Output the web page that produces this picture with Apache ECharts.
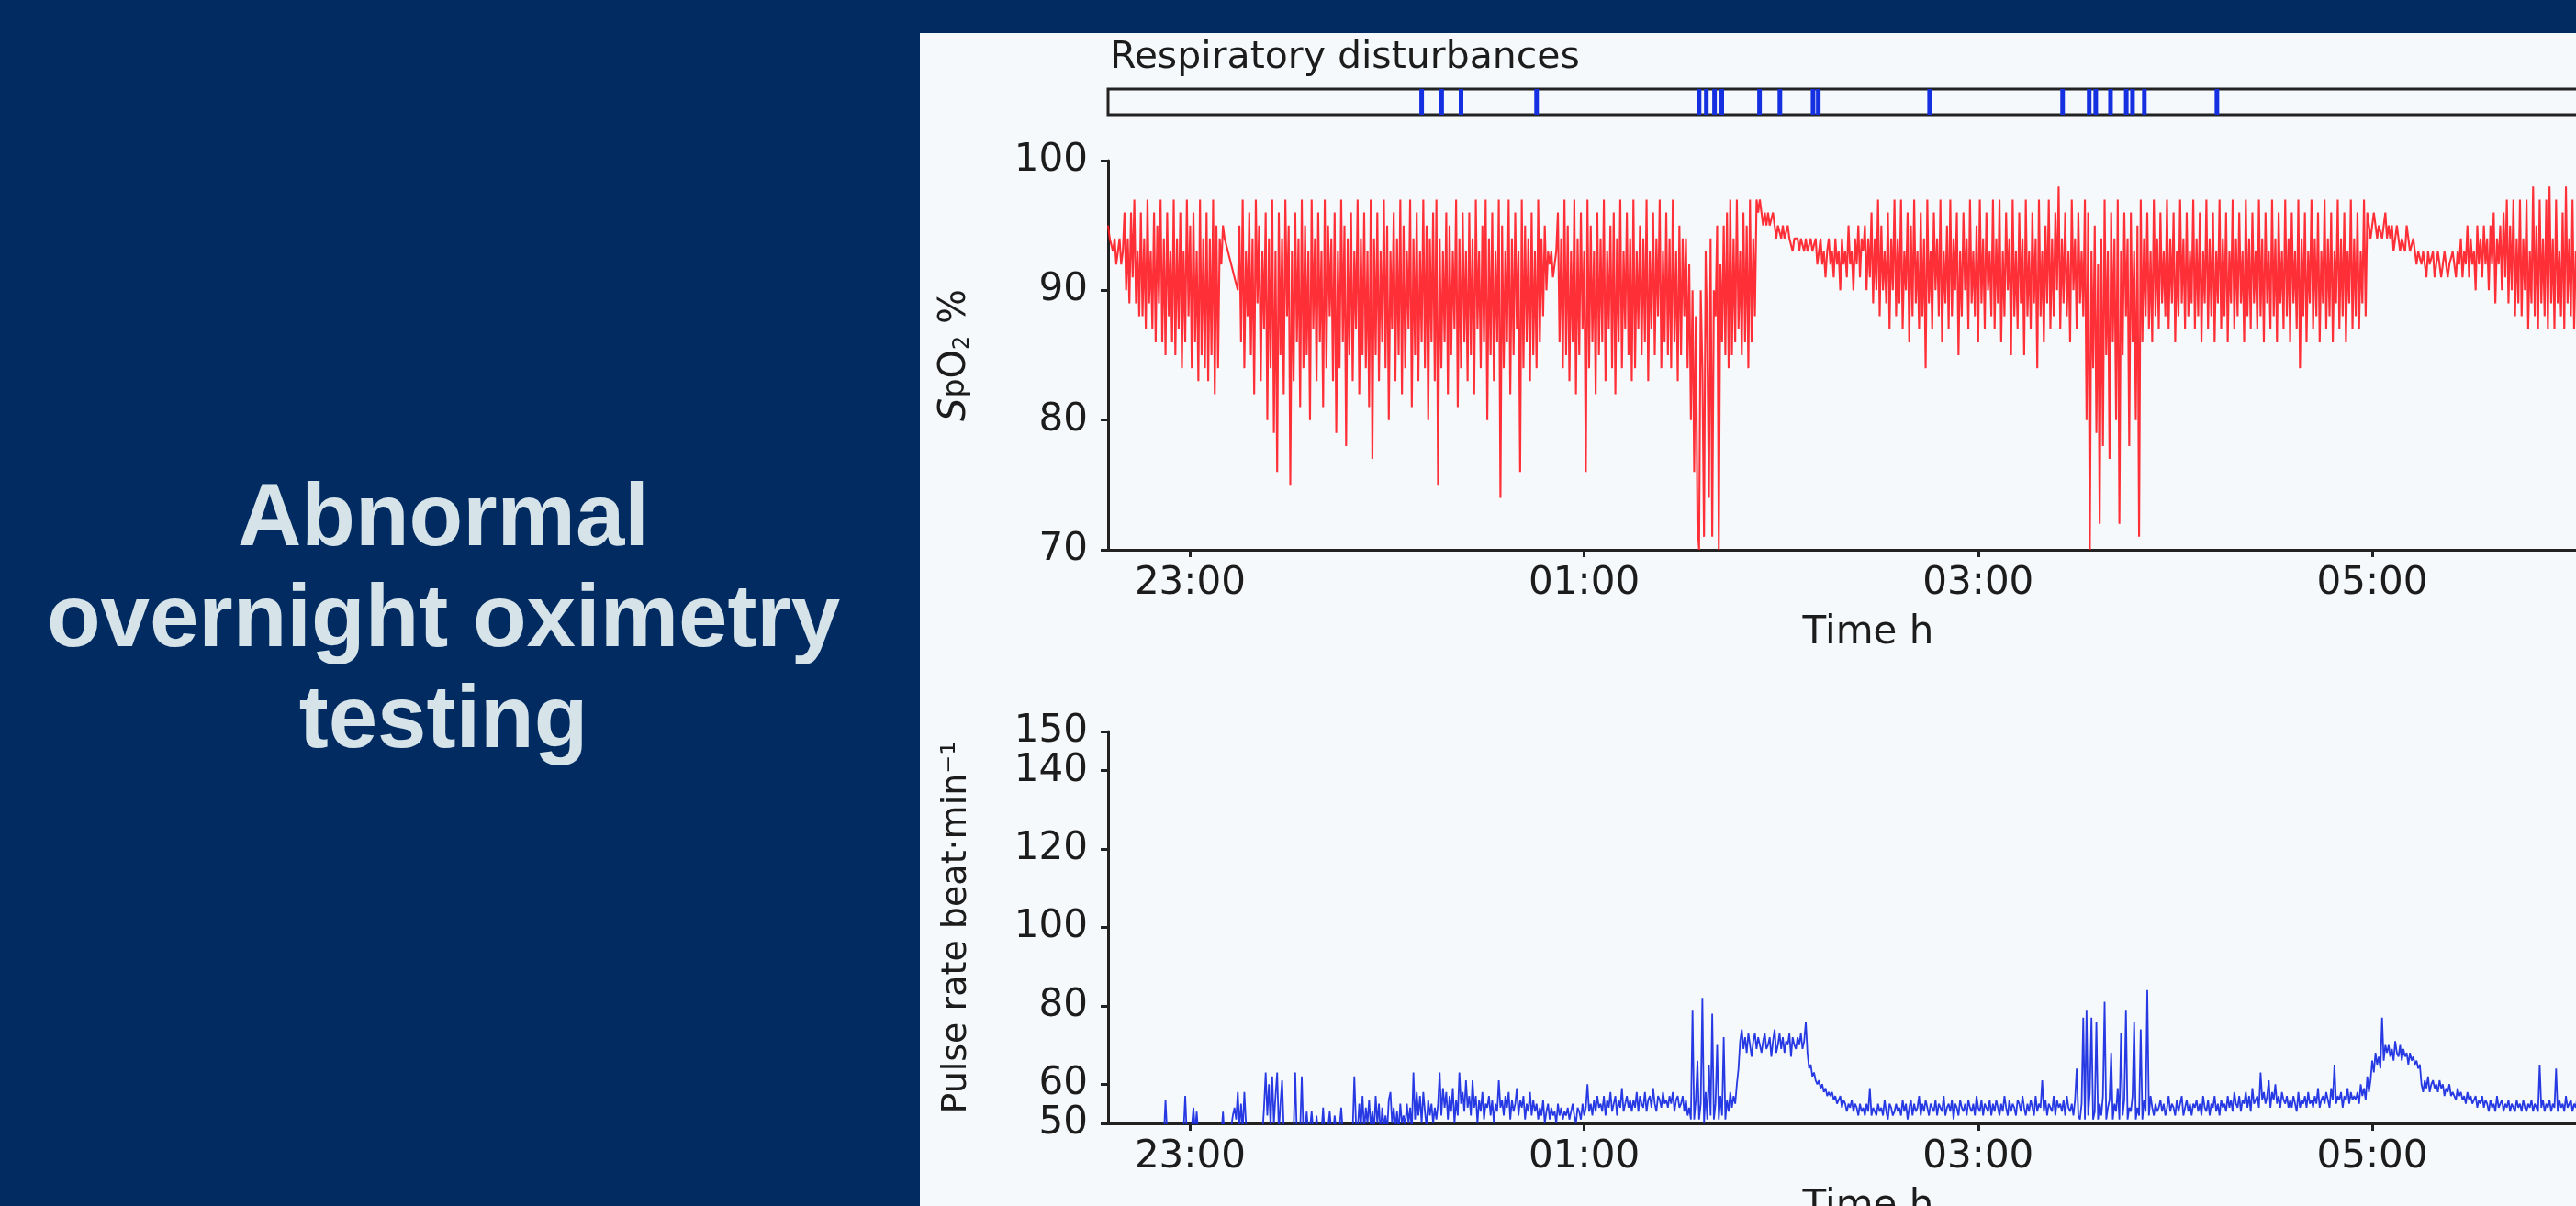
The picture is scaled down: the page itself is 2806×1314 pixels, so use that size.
<!DOCTYPE html>
<html lang="en">
<head>
<meta charset="UTF-8">
<title>Abnormal overnight oximetry testing</title>
<script src="https://cdn.jsdelivr.net/npm/echarts@6.0.0/dist/echarts.min.js"></script>
<style>
  html, body { margin: 0; padding: 0; width: 2806px; height: 1314px; overflow: hidden; background: #022c61; }
  .headline {
    position: absolute; left: 0; top: 506px; width: 966px; text-align: center;
    font-family: "Liberation Sans", Arial, sans-serif; font-weight: bold;
    font-size: 96px; line-height: 110px; color: #d6e4ea;
  }
  #panel { position: absolute; left: 1002px; top: 36px; width: 1900px; height: 1278px; background: #f6f9fb; }
</style>
</head>
<body>
<div class="headline">Abnormal<br>overnight oximetry<br>testing</div>
<div id="panel"></div>
<script>
// time in minutes after 22:00, one sample every 30 s from 22:35
var startMin = 35;
var stepMin = 0.5;
var endMin = 498;
var timeTicks = [60, 180, 300, 420];
var timeLabels = ['23:00', '01:00', '03:00', '05:00'];
var pulseTicks = [50, 60, 80, 100, 120, 140, 150];

// respiratory disturbance marks (minutes after 22:00)
var eventMin = [130.5, 136.6, 142.5, 165.5, 215.0, 217.2, 219.7, 221.9, 233.4, 239.6,
  249.7, 251.3, 285.2, 325.7, 333.8, 335.8, 340.3, 345.1, 347.0, 350.6, 372.7];

// SpO2 %, one array per hour
var spo2_2235 = [
  95,94,94,93,94,92,93,94,92,93,96,90,94,89,96,91,97,89,93,88,
  96,88,94,87,97,89,93,87,96,86,95,89,97,86,94,85,96,88,93,86,
  97,85,94,87,96,84,93,86,97,88,95,84,96,86,93,83,97,85,94,84,
  96,83,94,85,97,82,95,84,94,92,95,94,94,93,93,92,92,91,91,90,
  95,86,97,84,93,88,96,85,94,82,97,89,95,83,93,87,96,80,94,84,
  97,79,93,76,96,85,94,82,97,88,95,75,93,83,96,86,94,81,97,84];
var spo2_2335 = [
  95,85,93,80,97,87,94,83,96,86,93,81,97,84,95,88,94,83,96,79,
  93,84,97,86,95,78,94,85,96,83,93,87,97,82,94,85,96,84,93,81,
  97,77,94,85,96,83,93,86,97,84,95,80,93,87,96,83,94,85,97,82,
  95,84,93,87,97,81,94,85,96,83,93,86,97,84,95,80,94,86,96,83,
  97,75,94,84,93,86,96,82,95,85,93,87,97,81,94,84,96,86,93,83,
  96,85,94,82,97,87,93,84,95,86,97,80,94,85,96,83,93,86,97,74];
var spo2_0035 = [
  95,84,93,86,97,82,94,85,96,87,93,76,97,84,95,86,94,83,96,85,
  93,84,97,86,94,88,95,90,93,92,93,91,92,93,96,86,94,84,97,85,
  95,83,93,86,97,82,94,85,96,87,93,76,97,84,95,86,93,82,96,85,
  94,86,97,83,93,87,95,84,96,82,94,86,97,84,93,87,96,85,94,83,
  97,84,93,87,95,85,94,86,97,83,93,87,96,85,94,88,97,84,93,86,
  96,85,94,84,97,86,93,83,95,85,94,88,94,84,92,80,90,76,88,72];
var spo2_0135 = [
  70,90,84,71,93,86,74,94,71,90,88,95,70,92,86,95,85,96,84,97,
  85,94,86,97,87,93,85,96,86,95,84,97,86,94,88,97,96,97,96,95,
  96,95,96,95,95,96,95,94,95,95,94,95,94,94,95,94,94,93,94,94,
  94,93,94,94,93,94,93,93,94,93,93,94,92,93,94,92,93,91,93,94,
  92,93,91,94,92,93,90,94,92,93,91,95,92,93,90,94,92,95,91,94,
  93,95,90,94,91,96,89,94,90,97,88,95,90,93,89,96,87,94,90,97];
var spo2_0235 = [
  88,94,89,97,87,93,90,96,86,95,88,97,89,93,87,96,88,94,84,97,
  89,93,87,96,90,94,88,97,86,93,89,95,87,97,88,94,90,96,85,93,
  88,96,90,94,87,97,89,93,88,95,86,97,89,94,87,96,90,93,88,97,
  87,94,89,97,86,93,88,96,90,94,85,97,88,93,87,96,89,94,85,97,
  88,93,87,96,89,94,84,97,88,93,86,95,89,97,87,94,88,96,90,98,
  87,94,89,96,88,93,86,97,90,94,87,96,89,93,88,97,80,96,70,93];
var spo2_0335 = [
  84,95,79,92,72,94,78,97,85,93,77,96,86,94,80,97,72,93,85,96,
  88,94,78,96,86,93,80,95,71,97,86,94,88,96,87,93,86,97,88,94,
  87,96,89,93,88,97,87,94,89,96,86,93,88,97,89,94,87,96,88,93,
  89,97,87,94,88,96,86,93,89,97,87,94,88,96,86,93,89,97,87,94,
  88,96,86,93,89,97,87,94,88,96,89,93,86,97,88,94,87,96,89,93,
  87,97,88,94,86,96,89,93,87,97,88,94,86,96,89,93,87,97,88,94];
var spo2_0435 = [
  86,96,89,93,87,97,84,94,88,96,86,93,89,97,87,94,88,96,86,93,
  89,97,87,94,88,96,86,93,89,97,87,94,88,96,86,93,89,97,87,94,
  88,96,87,93,89,97,88,96,95,94,95,96,95,94,95,95,94,95,96,94,
  95,94,95,93,94,95,94,93,94,94,93,95,94,93,93,94,93,92,93,93,
  92,93,92,91,93,92,92,93,91,92,93,92,91,92,93,92,91,92,92,93,
  92,91,93,92,94,91,93,92,95,91,94,92,93,90,95,92,94,91,95,92];
var spo2_0535 = [
  94,90,95,92,96,89,94,92,95,90,96,91,97,89,95,90,97,88,94,89,
  97,88,94,90,97,87,93,89,98,88,95,87,97,89,94,88,97,87,98,89,
  94,87,97,89,93,88,96,87,98,89,94,88,97,87,93,89,96,88,97,87,
  95,89,97,88,93,87,96,89,94,88,97,87,95,89,93,88,96,87,97,89,
  94,88,97,87,95,89];

// pulse rate beat/min, one array per hour (values under 50 fall below the axis)
var pulse_2235 = [
  47,46,48,47,46,47,48,46,47,46,47,48,47,46,47,48,47,46,47,48,
  47,46,48,47,46,47,48,46,47,46,47,48,47,46,47,56,47,46,48,47,
  46,47,48,47,46,47,48,57,47,48,46,49,54,48,53,47,46,48,47,46,
  47,48,46,47,49,48,46,47,48,47,53,46,48,47,46,49,52,54,51,58,
  49,55,48,58,50,47,48,49,47,46,48,47,49,46,47,54,63,52,60,49,
  62,50,57,63,48,55,61,49,47,48,47,49,46,48,63,47,49,48,62,47];
var pulse_2335 = [
  48,53,47,49,53,48,46,52,47,49,48,54,47,46,49,53,48,47,52,48,
  47,49,54,48,47,46,48,49,47,48,62,50,48,55,49,57,48,54,50,56,
  49,53,48,57,50,55,47,54,49,52,48,56,58,50,54,49,53,48,55,50,
  52,49,55,50,54,48,63,51,58,52,57,50,58,53,49,56,52,55,50,54,
  51,55,63,52,59,54,58,51,57,53,59,50,56,52,63,55,58,53,61,54,
  57,52,61,54,57,50,56,53,58,51,55,54,57,52,56,50,55,53,61,54];
var pulse_0035 = [
  56,52,57,54,58,51,56,53,55,59,52,56,54,57,51,55,53,58,52,56,
  53,55,51,54,52,56,50,53,55,51,54,52,53,50,55,52,54,51,53,52,
  54,51,53,55,52,50,54,53,51,55,52,54,60,53,55,52,56,53,57,54,
  55,53,57,52,56,54,58,53,55,57,52,56,54,59,53,55,57,54,56,53,
  56,54,58,53,57,55,54,58,53,56,57,54,59,55,53,57,56,54,58,55,
  56,54,57,55,58,53,56,57,54,55,57,53,56,52,54,51,79,51,56,66];
var pulse_0135 = [
  51,55,82,50,58,51,65,52,78,51,55,70,51,57,52,72,51,56,53,58,
  54,57,55,60,64,71,74,69,72,68,73,70,67,71,73,69,72,70,68,71,
  73,69,70,72,67,71,74,68,70,73,69,72,68,71,70,73,67,72,70,69,
  72,70,73,69,71,76,68,64,65,62,63,61,60,61,59,60,58,59,57,58,
  57,58,56,57,55,56,57,54,56,55,53,55,54,56,53,55,54,52,55,53,
  54,52,55,53,59,52,54,53,52,55,53,54,52,56,53,51,55,54,52,53];
var pulse_0235 = [
  55,53,54,52,56,53,55,51,54,56,52,55,53,54,57,52,55,53,56,54,
  52,55,54,53,56,52,55,54,53,57,52,54,55,53,56,51,55,54,52,56,
  54,53,55,52,56,54,53,55,52,57,54,53,56,52,55,54,53,56,52,55,
  53,56,54,52,55,53,57,54,52,56,53,55,54,52,56,55,53,57,54,52,
  55,53,56,54,52,57,53,55,54,61,53,56,52,55,54,53,57,52,56,54,
  55,53,56,52,57,54,53,55,52,56,64,52,51,55,77,51,79,52,58,77];
var pulse_0335 = [
  51,53,76,51,55,52,57,81,51,54,56,68,51,55,53,59,51,73,52,56,
  79,51,54,53,57,76,51,54,52,74,51,56,53,84,52,57,54,52,55,53,
  54,56,53,55,52,54,57,53,55,54,52,56,53,55,57,52,54,56,53,55,
  52,55,54,56,53,55,52,57,54,53,56,52,55,54,57,53,55,52,56,54,
  55,53,57,54,56,53,58,55,54,57,53,56,55,58,54,57,53,59,55,56,
  57,54,63,56,58,55,57,61,54,58,56,60,55,57,54,58,56,55,57,54];
var pulse_0435 = [
  56,54,57,55,53,58,54,56,55,57,54,58,55,56,54,57,55,59,54,56,
  57,55,58,56,54,59,56,65,55,57,56,58,54,57,56,59,55,58,56,57,
  56,58,55,60,57,59,56,62,58,61,66,63,68,65,67,64,77,66,70,68,
  70,67,69,66,71,68,67,70,66,69,67,68,65,68,66,67,65,66,64,65,
  60,58,61,59,62,58,60,61,59,60,58,61,59,60,57,59,58,60,57,58,
  58,56,59,57,58,56,57,55,58,56,57,55,56,57,54,56,55,57,54,56];
var pulse_0535 = [
  55,53,56,54,55,53,57,54,55,56,53,55,54,56,53,55,54,53,56,54,
  55,53,56,54,53,55,54,56,53,55,54,53,65,54,56,53,55,54,56,53,
  55,54,64,53,56,54,55,53,57,54,55,56,53,55,54,57,53,56,54,55,
  53,56,54,55,57,53,55,54,56,53,55,57,54,56,53,55,54,56,53,55,
  54,56,53,55,54,56];

var spo2 = [].concat(spo2_2235, spo2_2335, spo2_0035, spo2_0135, spo2_0235, spo2_0335, spo2_0435, spo2_0535);
var pulse = [].concat(pulse_2235, pulse_2335, pulse_0035, pulse_0135, pulse_0235, pulse_0335, pulse_0435, pulse_0535);

function withTime(values) {
    return values.map(function (v, i) { return [startMin + i * stepMin, v]; });
}

var font = '"DejaVu Sans", sans-serif';
var ink = '#1c1c1c';

function timeAxis(gridIndex) {
    return {
        gridIndex: gridIndex,
        type: 'value',
        min: startMin,
        max: endMin,
        name: 'Time h',
        nameLocation: 'middle',
        nameGap: 70,
        nameTextStyle: { fontFamily: font, fontSize: 42, color: ink },
        axisLine: { show: true, onZero: false, lineStyle: { color: '#222', width: 3 } },
        axisTick: { show: true, customValues: timeTicks, length: 8, lineStyle: { color: '#222', width: 3 } },
        axisLabel: {
            customValues: timeTicks,
            margin: 16,
            fontFamily: font,
            fontSize: 42,
            color: ink,
            formatter: function (v) { return timeLabels[timeTicks.indexOf(v)]; }
        },
        splitLine: { show: false }
    };
}

var chart = echarts.init(document.getElementById('panel'));

var option = {
    animation: false,
    title: {
        text: 'Respiratory disturbances',
        left: 202,
        top: 2,
        textStyle: { fontFamily: font, fontSize: 41, fontWeight: 'normal', color: ink }
    },
    grid: [
        { left: 205, top: 61, width: 1656, height: 28, show: true, borderColor: '#222', borderWidth: 3, outerBoundsMode: 'none' },
        { left: 205, top: 139, width: 1656, height: 424, outerBoundsMode: 'none' },
        { left: 205, top: 761, width: 1656, height: 427, outerBoundsMode: 'none' }
    ],
    xAxis: [
        { gridIndex: 0, type: 'value', min: startMin, max: endMin, show: false },
        timeAxis(1),
        timeAxis(2)
    ],
    yAxis: [
        { gridIndex: 0, type: 'value', min: 0, max: 1, show: false },
        {
            gridIndex: 1,
            type: 'value',
            min: 70,
            max: 100,
            interval: 10,
            name: '{it|S}{sm|p}{n|O}{sub|2}{n| %}',
            nameLocation: 'middle',
            nameGap: 146,
            nameTextStyle: {
                fontFamily: font, fontSize: 40, color: ink,
                rich: {
                    it: { fontFamily: font, fontSize: 40, fontStyle: 'italic', color: ink },
                    sm: { fontFamily: font, fontSize: 33, color: ink },
                    n: { fontFamily: font, fontSize: 40, color: ink },
                    sub: { fontFamily: font, fontSize: 24, color: ink, verticalAlign: 'bottom', lineHeight: 40 }
                }
            },
            axisLine: { show: true, lineStyle: { color: '#222', width: 3 } },
            axisTick: { show: true, length: 8, lineStyle: { color: '#222', width: 3 } },
            axisLabel: { margin: 22, fontFamily: font, fontSize: 42, color: ink, showMinLabel: true, showMaxLabel: true },
            splitLine: { show: false }
        },
        {
            gridIndex: 2,
            type: 'value',
            min: 50,
            max: 150,
            name: 'Pulse rate beat·min⁻¹',
            nameLocation: 'middle',
            nameGap: 146,
            nameTextStyle: { fontFamily: font, fontSize: 38, color: ink },
            axisLine: { show: true, lineStyle: { color: '#222', width: 3 } },
            axisTick: { show: true, customValues: pulseTicks, length: 8, lineStyle: { color: '#222', width: 3 } },
            axisLabel: {
                customValues: pulseTicks, margin: 22, fontFamily: font, fontSize: 42, color: ink,
                showMinLabel: true, showMaxLabel: true, hideOverlap: false
            },
            splitLine: { show: false }
        }
    ],
    series: [
        {
            name: 'Respiratory disturbances',
            type: 'bar',
            xAxisIndex: 0,
            yAxisIndex: 0,
            barWidth: 5,
            itemStyle: { color: '#1530e0' },
            data: eventMin.map(function (m) { return [m, 1]; })
        },
        {
            name: 'SpO2',
            type: 'line',
            xAxisIndex: 1,
            yAxisIndex: 1,
            symbol: 'none',
            color: '#ff1e28',
            lineStyle: { color: 'rgba(255,24,32,0.9)', width: 2.1 },
            data: withTime(spo2)
        },
        {
            name: 'Pulse',
            type: 'line',
            xAxisIndex: 2,
            yAxisIndex: 2,
            symbol: 'none',
            clip: true,
            color: '#1a30e2',
            lineStyle: { color: 'rgba(26,46,226,0.95)', width: 1.8 },
            data: withTime(pulse)
        }
    ]
};

chart.setOption(option);
</script>
</body>
</html>
